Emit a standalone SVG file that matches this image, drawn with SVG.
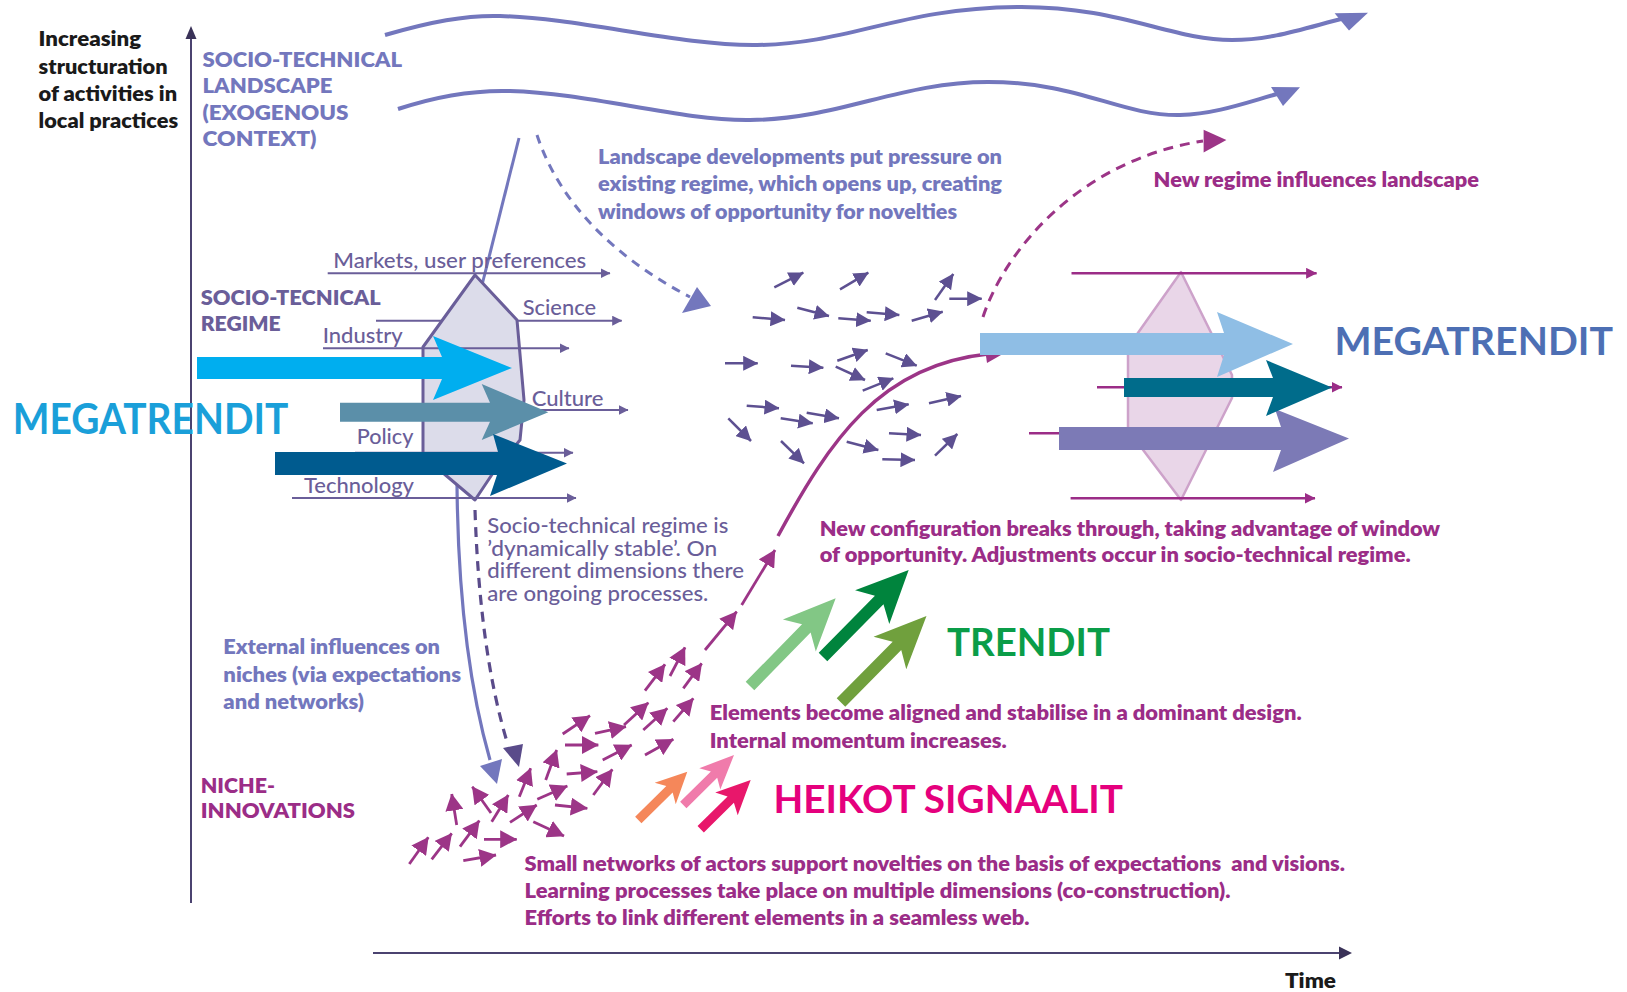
<svg xmlns="http://www.w3.org/2000/svg" width="1627" height="992" viewBox="0 0 1627 992">
<style>
text{font-family:Lato,"Open Sans","Liberation Sans",sans-serif}
.b{font-weight:800}
.big{font-weight:700}
.r{font-weight:500}
.blk{fill:#1a1a1a}
.per{fill:#7377bd}
.reg{fill:#6a5e99}
.mag{fill:#9b2d87}
.sd{stroke:#5d5091;stroke-width:2.5;fill:none;marker-end:url(#mD)}
.sm{stroke:#9c3587;stroke-width:2.8;fill:none;marker-end:url(#mM)}
.rl{stroke:#6a5e99;stroke-width:2;fill:none;marker-end:url(#mR)}
.ml{stroke:#9b2d87;stroke-width:2.5;fill:none;marker-end:url(#mMl)}
</style>
<defs>
<marker id="mD" markerUnits="userSpaceOnUse" viewBox="0 0 15 15" markerWidth="15" markerHeight="15" refX="14.5" refY="7.5" orient="auto"><path d="M0,0 L15,7.5 L0,15 Z" fill="#5d5091"/></marker>
<marker id="mM" markerUnits="userSpaceOnUse" viewBox="0 0 17 18" markerWidth="17" markerHeight="18" refX="16.5" refY="9" orient="auto"><path d="M0,0 L17,9 L0,18 Z" fill="#9c3587"/></marker>
<marker id="mR" markerUnits="userSpaceOnUse" viewBox="0 0 10 10" markerWidth="10" markerHeight="10" refX="9.5" refY="5" orient="auto"><path d="M0,0 L10,5 L0,10 Z" fill="#6a5e99"/></marker>
<marker id="mMl" markerUnits="userSpaceOnUse" viewBox="0 0 11 11" markerWidth="11" markerHeight="11" refX="10.5" refY="5.5" orient="auto"><path d="M0,0 L11,5.5 L0,11 Z" fill="#9b2d87"/></marker>
</defs>

<!-- axes -->
<g id="axes">
<line x1="191" y1="903" x2="191" y2="36" stroke="#4b4370" stroke-width="2"/>
<polygon points="191,26 185.5,39 196.5,39" fill="#3a3258"/>
<line x1="373" y1="953" x2="1342" y2="953" stroke="#4b4370" stroke-width="2"/>
<polygon points="1352,953 1339,946.5 1339,959.5" fill="#3a3258"/>
<text class="b blk" x="1285" y="988" font-size="21" textLength="51" lengthAdjust="spacingAndGlyphs">Time</text>
<text class="b blk" font-size="21">
<tspan x="38.6" y="46" textLength="102.5" lengthAdjust="spacingAndGlyphs">Increasing</tspan>
<tspan x="38.6" y="73.5" textLength="129" lengthAdjust="spacingAndGlyphs">structuration</tspan>
<tspan x="38.6" y="101" textLength="138.5" lengthAdjust="spacingAndGlyphs">of activities in</tspan>
<tspan x="38.6" y="128" textLength="139.5" lengthAdjust="spacingAndGlyphs">local practices</tspan>
</text>
</g>

<!-- landscape -->
<g id="landscape">
<path d="M385,35 C430,22 465,15 500,16 C580,18 680,46 757,45 C850,44 900,8 1017,7 C1120,6 1170,40 1232,40 C1272,40 1305,28 1345,18" stroke="#7377bd" stroke-width="4" fill="none"/>
<polygon points="1368,12.7 1334.6,13.3 1349,30.5" fill="#7377bd"/>
<path d="M398,109 C440,95 475,90 510,91 C590,93 680,121 750,120 C840,119 900,82 988,82 C1080,82 1120,116 1180,115 C1215,114 1245,103 1277,94" stroke="#7377bd" stroke-width="4" fill="none"/>
<polygon points="1300,87.3 1271,87 1283,106" fill="#7377bd"/>
<text class="b per" font-size="21">
<tspan x="202.5" y="66.7" textLength="199" lengthAdjust="spacingAndGlyphs">SOCIO-TECHNICAL</tspan>
<tspan x="202.5" y="93" textLength="130" lengthAdjust="spacingAndGlyphs">LANDSCAPE</tspan>
<tspan x="202.5" y="119.5" textLength="146" lengthAdjust="spacingAndGlyphs">(EXOGENOUS</tspan>
<tspan x="202.5" y="146" textLength="114" lengthAdjust="spacingAndGlyphs">CONTEXT)</tspan>
</text>
<text class="b per" font-size="20">
<tspan x="598" y="163.5" textLength="404" lengthAdjust="spacingAndGlyphs">Landscape developments put pressure on</tspan>
<tspan x="598" y="191" textLength="404" lengthAdjust="spacingAndGlyphs">existing regime, which opens up, creating</tspan>
<tspan x="598" y="218.5" textLength="359" lengthAdjust="spacingAndGlyphs">windows of opportunity for novelties</tspan>
</text>
</g>

<!-- regime -->
<g id="regime">
<path d="M457,484 C458,600 470,690 490,760" stroke="#7377bd" stroke-width="3.2" fill="none"/>
<polygon points="497,784 480,766 502,759" fill="#7377bd"/>
<path d="M475,510 C478,600 488,680 508,745" stroke="#5a4b8a" stroke-width="3.2" fill="none" stroke-dasharray="10,7"/>
<polygon points="519,767 503,748 523,744" fill="#5a4b8a"/>
<line x1="519" y1="138" x2="482" y2="285" stroke="#7377bd" stroke-width="3"/>
<polygon points="475,275 517,320 524,400 520,440 493,473 475,500 423,456 423,347" fill="#dcdcea" stroke="#6a5e99" stroke-width="3" stroke-linejoin="round"/>
<line class="rl" x1="327.7" y1="273.3" x2="610" y2="273.3"/>
<line x1="376" y1="320.7" x2="442" y2="320.7" stroke="#6a5e99" stroke-width="2"/>
<line class="rl" x1="517" y1="320.7" x2="621.7" y2="320.7"/>
<line class="rl" x1="323" y1="348.3" x2="569" y2="348.3"/>
<line class="rl" x1="345" y1="410" x2="628" y2="410"/>
<line class="rl" x1="355" y1="452.7" x2="573" y2="452.7"/>
<line class="rl" x1="292" y1="498" x2="576" y2="498"/>
<text class="r reg" font-size="21" x="333.3" y="268.3" textLength="253" lengthAdjust="spacingAndGlyphs">Markets, user preferences</text>
<text class="r reg" font-size="21" x="522.7" y="315" textLength="73.3" lengthAdjust="spacingAndGlyphs">Science</text>
<text class="r reg" font-size="21" x="322.7" y="343.3" textLength="80" lengthAdjust="spacingAndGlyphs">Industry</text>
<text class="r reg" font-size="21" x="531.7" y="405.7" textLength="71.7" lengthAdjust="spacingAndGlyphs">Culture</text>
<text class="r reg" font-size="21" x="356.7" y="444" textLength="56.7" lengthAdjust="spacingAndGlyphs">Policy</text>
<text class="r reg" font-size="21" x="304" y="493.3" textLength="110" lengthAdjust="spacingAndGlyphs">Technology</text>
<text class="b reg" font-size="21">
<tspan x="200.7" y="305" textLength="179.3" lengthAdjust="spacingAndGlyphs">SOCIO-TECNICAL</tspan>
<tspan x="200.7" y="330.7" textLength="80" lengthAdjust="spacingAndGlyphs">REGIME</tspan>
</text>
<text class="r reg" font-size="21">
<tspan x="487.3" y="533.3" textLength="241" lengthAdjust="spacingAndGlyphs">Socio-technical regime is</tspan>
<tspan x="487.3" y="556" textLength="230" lengthAdjust="spacingAndGlyphs">’dynamically stable’. On</tspan>
<tspan x="487.3" y="578.3" textLength="256.7" lengthAdjust="spacingAndGlyphs">different dimensions there</tspan>
<tspan x="487.3" y="600.7" textLength="221" lengthAdjust="spacingAndGlyphs">are ongoing processes.</tspan>
</text>
</g>

<!-- left megatrends -->
<g id="megatrends-left">
<polygon points="197,357 442,357 433,336 512,368 433,400 442,379 197,379" fill="#00aeef"/>
<polygon points="340,402.7 490,402.7 481.7,384 548.3,412.3 481.7,440 490,421.7 340,421.7" fill="#5b8fa9"/>
<polygon points="275,452 498,452 493,434 567,463.5 490,496 497,475 275,475" fill="#005b8f"/>
<text class="big" font-size="42" fill="#1a9fd9" x="12.7" y="434" textLength="275.6" lengthAdjust="spacingAndGlyphs">MEGATRENDIT</text>
</g>

<!-- landscape pressure dashed arrow -->
<g id="pressure">
<path d="M537,135 C555,190 600,250 690,297" stroke="#7377bd" stroke-width="3" fill="none" stroke-dasharray="9,7"/>
<polygon points="711,306 682,313 697,287" fill="#7377bd"/>
</g>

<!-- external influences text -->
<g id="external">
<text class="b per" font-size="20">
<tspan x="223.3" y="654" textLength="216.7" lengthAdjust="spacingAndGlyphs">External influences on</tspan>
<tspan x="223.3" y="681.7" textLength="237.7" lengthAdjust="spacingAndGlyphs">niches (via expectations</tspan>
<tspan x="223.3" y="709" textLength="140.7" lengthAdjust="spacingAndGlyphs">and networks)</tspan>
</text>
</g>

<!-- niche -->
<g id="niche">
<text class="b mag" font-size="21">
<tspan x="200.7" y="792.7" textLength="74.3" lengthAdjust="spacingAndGlyphs">NICHE-</tspan>
<tspan x="200.7" y="818.3" textLength="154.3" lengthAdjust="spacingAndGlyphs">INNOVATIONS</tspan>
</text>
<text class="b mag" font-size="21" xml:space="preserve"><tspan x="524.5" y="871" textLength="820.5" lengthAdjust="spacingAndGlyphs">Small networks of actors support novelties on the basis of expectations  and visions.</tspan></text>
<text class="b mag" font-size="21">
<tspan x="524.5" y="898" textLength="706" lengthAdjust="spacingAndGlyphs">Learning processes take place on multiple dimensions (co-construction).</tspan>
<tspan x="524.5" y="924.5" textLength="505" lengthAdjust="spacingAndGlyphs">Efforts to link different elements in a seamless web.</tspan>
</text>
</g>

<!-- connectors: small arrows -->
<g id="connectors">
<g id="window-arrows">
<line class="sd" x1="774.3" y1="287.3" x2="803.3" y2="272.7"/>
<line class="sd" x1="840" y1="289.3" x2="868.3" y2="272.7"/>
<line class="sd" x1="935" y1="300" x2="953.3" y2="274"/>
<line class="sd" x1="949.3" y1="298.7" x2="981.7" y2="298.7"/>
<line class="sd" x1="752.7" y1="317.3" x2="785" y2="320"/>
<line class="sd" x1="797.3" y1="307.7" x2="829" y2="316"/>
<line class="sd" x1="838.3" y1="318.3" x2="870.7" y2="320.7"/>
<line class="sd" x1="866.7" y1="312.3" x2="899.3" y2="315"/>
<line class="sd" x1="911.7" y1="320.7" x2="942.7" y2="311.7"/>
<line class="sd" x1="725" y1="363.3" x2="757.7" y2="363.3"/>
<line class="sd" x1="791" y1="365.7" x2="823.3" y2="367.7"/>
<line class="sd" x1="837.3" y1="360.7" x2="867.7" y2="350"/>
<line class="sd" x1="885.7" y1="353.3" x2="916.7" y2="365.7"/>
<line class="sd" x1="835.7" y1="366.7" x2="865" y2="380"/>
<line class="sd" x1="862.7" y1="390.7" x2="893.3" y2="378.3"/>
<line class="sd" x1="746.7" y1="405.7" x2="779" y2="408.3"/>
<line class="sd" x1="780.7" y1="418.3" x2="812.7" y2="423.3"/>
<line class="sd" x1="806.7" y1="412.7" x2="839" y2="418.3"/>
<line class="sd" x1="728.3" y1="418.3" x2="751" y2="441"/>
<line class="sd" x1="781" y1="441" x2="804" y2="463.3"/>
<line class="sd" x1="876.7" y1="410" x2="908.7" y2="404.3"/>
<line class="sd" x1="929" y1="403.3" x2="961" y2="396"/>
<line class="sd" x1="846.7" y1="441.7" x2="878.3" y2="450"/>
<line class="sd" x1="889" y1="433.3" x2="921" y2="435"/>
<line class="sd" x1="882.3" y1="459.3" x2="915" y2="460"/>
<line class="sd" x1="935" y1="455.7" x2="957.3" y2="434"/>
</g>
<g id="niche-arrows">
<line class="sm" x1="409.3" y1="864" x2="428.3" y2="837.3"/>
<line class="sm" x1="431.7" y1="859.3" x2="451.7" y2="833.3"/>
<line class="sm" x1="463.3" y1="860.7" x2="496" y2="855"/>
<line class="sm" x1="460" y1="846.7" x2="479.3" y2="820.7"/>
<line class="sm" x1="484" y1="839.3" x2="516.7" y2="839.3"/>
<line class="sm" x1="456.7" y1="825" x2="451.7" y2="794"/>
<line class="sm" x1="491" y1="813" x2="472.3" y2="786.7"/>
<line class="sm" x1="491.7" y1="821.7" x2="508.3" y2="795"/>
<line class="sm" x1="510" y1="822.3" x2="536.7" y2="805"/>
<line class="sm" x1="533.3" y1="821.7" x2="564" y2="836"/>
<line class="sm" x1="519.3" y1="796.7" x2="530.7" y2="768.3"/>
<line class="sm" x1="537.3" y1="799.3" x2="567.3" y2="786"/>
<line class="sm" x1="555" y1="805" x2="587.3" y2="808.3"/>
<line class="sm" x1="545.7" y1="780" x2="556.7" y2="750"/>
<line class="sm" x1="566.7" y1="774" x2="597.3" y2="771.7"/>
<line class="sm" x1="593.3" y1="795" x2="612.3" y2="769.3"/>
<line class="sm" x1="562.7" y1="734" x2="590" y2="715.7"/>
<line class="sm" x1="565" y1="745" x2="598.3" y2="745"/>
<line class="sm" x1="602.7" y1="760" x2="631.7" y2="745"/>
<line class="sm" x1="595" y1="733.3" x2="626" y2="726.7"/>
<line class="sm" x1="624" y1="725" x2="648.3" y2="702.7"/>
<line class="sm" x1="643.3" y1="730" x2="667.3" y2="708.3"/>
<line class="sm" x1="645" y1="755" x2="673.3" y2="739.3"/>
<line class="sm" x1="673.3" y1="721.7" x2="693.3" y2="698.3"/>
<line class="sm" x1="645" y1="690.7" x2="665" y2="664.3"/>
<line class="sm" x1="670" y1="676" x2="685" y2="647.3"/>
<line class="sm" x1="683.3" y1="688.3" x2="701.7" y2="663.3"/>
<line class="sm" x1="705" y1="650" x2="736.7" y2="611.7"/>
<line class="sm" x1="741.7" y1="605" x2="775" y2="550"/>
</g>
<g id="breakthrough">
<path d="M778,536 C830,440 880,365 988,354" stroke="#9c3587" stroke-width="3.5" fill="none"/>
<polygon points="1001,355 985,349 987,363" fill="#9c3587"/>
<path d="M983,317 C1005,250 1080,160 1203,141" stroke="#9c3587" stroke-width="3" fill="none" stroke-dasharray="10,7"/>
<polygon points="1226.4,140 1203.6,129.7 1203.6,152.5" fill="#9c3587"/>
</g>
</g>

<!-- new regime -->
<g id="new-regime">
<polygon points="1181,272 1232,375 1232,398 1181,500 1128,430 1128,347" fill="#e9d6e8" stroke="#cda2ca" stroke-width="2.5" stroke-linejoin="round"/>
<line class="ml" x1="1071.5" y1="273.3" x2="1316.6" y2="273.3"/>
<line class="ml" x1="1070.6" y1="498.3" x2="1315" y2="498.3"/>
<line class="ml" x1="1097" y1="387.3" x2="1342" y2="387.3"/>
<line class="ml" x1="1029" y1="433.3" x2="1270" y2="433.3"/>
<polygon points="1059,427 1281,427 1275,409 1349,438.5 1273,472 1281,450 1059,450" fill="#7c7ab6"/>
<polygon points="980,333 1224,333 1217,312 1293,344 1217,377 1224,355 980,355" fill="#8fbee5"/>
<polygon points="1124,378 1273,378 1266,360 1332,387.5 1266,416 1273,397 1124,397" fill="#006c8b"/>
<text class="big" font-size="38" fill="#4d6fb4" x="1334.5" y="355" textLength="278.5" lengthAdjust="spacingAndGlyphs">MEGATRENDIT</text>
<text class="b mag" font-size="21" x="1153.6" y="186.7" textLength="325.4" lengthAdjust="spacingAndGlyphs">New regime influences landscape</text>
<text class="b mag" font-size="20">
<tspan x="819.7" y="535.5" textLength="620" lengthAdjust="spacingAndGlyphs">New configuration breaks through, taking advantage of window</tspan>
<tspan x="819.7" y="562" textLength="591" lengthAdjust="spacingAndGlyphs">of opportunity. Adjustments occur in socio-technical regime.</tspan>
</text>
</g>

<!-- trends -->
<g id="trendit">
<polygon transform="translate(750,686) rotate(-45.66)" points="0,-6 80.6,-6 70.6,-23 122.6,0 70.6,23 80.6,6 0,6" fill="#82c785"/>
<polygon transform="translate(823,657) rotate(-45.43)" points="0,-6 80.1,-6 70.1,-24 122.1,0 70.1,24 80.1,6 0,6" fill="#00843d"/>
<polygon transform="translate(841,702.5) rotate(-45.33)" points="0,-6 79.6,-6 69.6,-23 121.6,0 69.6,23 79.6,6 0,6" fill="#70a03d"/>
<text class="big" font-size="38" fill="#0a9d48" x="947" y="656" textLength="163" lengthAdjust="spacingAndGlyphs">TRENDIT</text>
<text class="b mag" font-size="20">
<tspan x="709.7" y="720" textLength="592" lengthAdjust="spacingAndGlyphs">Elements become aligned and stabilise in a dominant design.</tspan>
<tspan x="709.7" y="748" textLength="297" lengthAdjust="spacingAndGlyphs">Internal momentum increases.</tspan>
</text>
</g>

<!-- weak signals -->
<g id="heikot-signaalit">
<polygon transform="translate(638.3,820) rotate(-44.6)" points="0,-4.5 43.8,-4.5 37.8,-15 68.8,0 37.8,15 43.8,4.5 0,4.5" fill="#f5875a"/>
<polygon transform="translate(683.3,805) rotate(-44.6)" points="0,-4.5 43.2,-4.5 37.2,-15 71.2,0 37.2,15 43.2,4.5 0,4.5" fill="#f07bab"/>
<polygon transform="translate(700.7,829.3) rotate(-44.6)" points="0,-4.5 42.2,-4.5 36.2,-16 70.2,0 36.2,16 42.2,4.5 0,4.5" fill="#e8176b"/>
<text class="big" font-size="38" fill="#e5007d" x="773.5" y="812.7" textLength="349.5" lengthAdjust="spacingAndGlyphs">HEIKOT SIGNAALIT</text>
</g>
</svg>
